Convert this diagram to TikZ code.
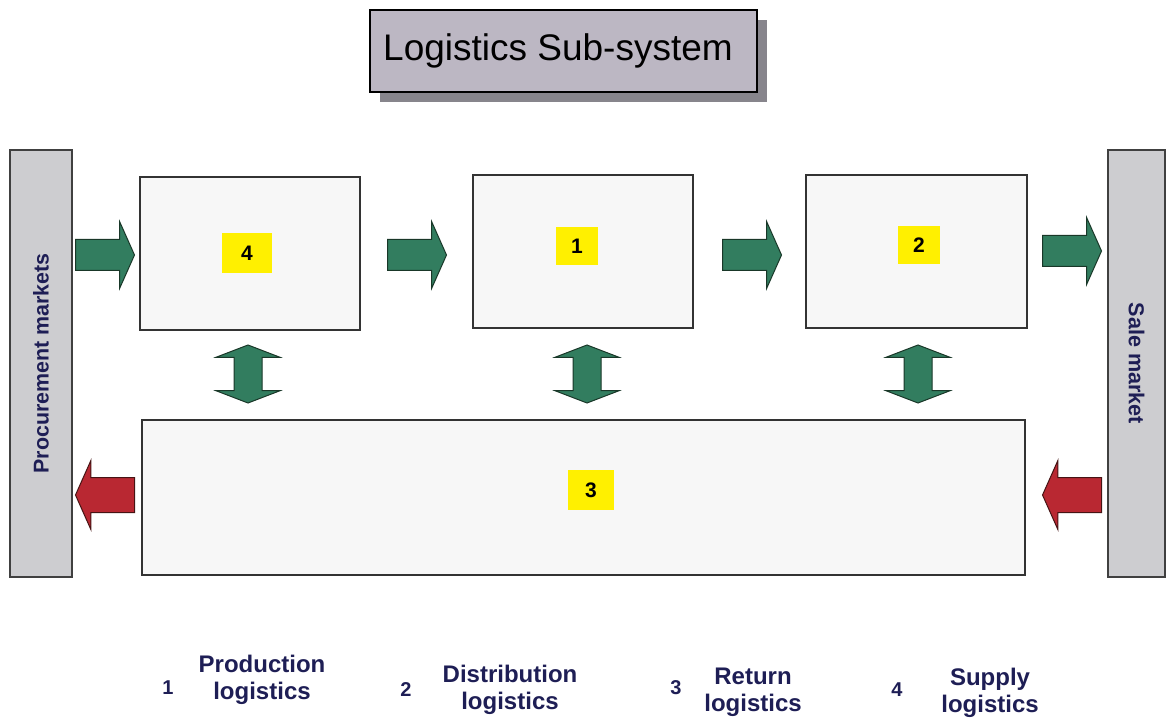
\documentclass[tikz,border=0pt]{standalone}
\usepackage{fontspec}
\setmainfont{Liberation Sans}
\usetikzlibrary{shapes.arrows}
\definecolor{gfill}{RGB}{50,125,95}
\definecolor{gdraw}{RGB}{25,55,40}
\definecolor{rfill}{RGB}{185,40,50}
\definecolor{rdraw}{RGB}{70,20,20}
\definecolor{tfill}{RGB}{188,183,195}
\definecolor{tshadow}{RGB}{135,133,140}
\definecolor{barfill}{RGB}{205,205,208}
\definecolor{navy}{RGB}{30,30,85}
\definecolor{ylw}{RGB}{255,240,0}
\definecolor{boxfill}{RGB}{247,247,247}
\tikzset{
  panel/.style={draw=black!80, line width=0.6pt, fill=boxfill, inner sep=0pt},
  bar/.style={draw=black!75, line width=0.6pt, fill=barfill, inner sep=0pt, minimum height=213.5pt},
  tag/.style={fill=ylw, inner sep=0pt, font=\fontsize{10.5}{12}\selectfont\bfseries},
  flowarrow/.style={single arrow, draw=gdraw, fill=gfill, line width=0.5pt, inner sep=7.5pt,
     single arrow head extend=9pt, single arrow tip angle=132, minimum height=29.5pt, anchor=tail},
  backarrow/.style={flowarrow, draw=rdraw, fill=rfill, inner sep=8.5pt, single arrow head extend=8.5pt, single arrow tip angle=132},
  linkarrow/.style={double arrow, draw=gdraw, fill=gfill, line width=0.5pt, inner sep=6.75pt,
     double arrow head extend=9pt, double arrow tip angle=138, minimum height=29pt, rotate=90},
  legnum/.style={text=navy, font=\fontsize{10}{12}\selectfont\bfseries},
  legtxt/.style={text=navy, align=center, font=\fontsize{12}{13.5}\selectfont\bfseries}
}
\begin{document}
\begin{tikzpicture}[x=0.5pt,y=-0.5pt]
\useasboundingbox (0,0) rectangle (1171,721);
% title
\fill[tshadow] (380,20) rectangle (767,102);
\node[draw=black, line width=0.8pt, fill=tfill, minimum width=193.5pt, minimum height=41pt, inner sep=0pt] (title) at (563.5,51) {};
\node[font=\fontsize{18.5}{22}\selectfont] (titletext) at (558,51) {Logistics Sub-system};
% side bars
\node[bar, minimum width=31pt] (pm) at (41,363.5) {};
\node[rotate=90, text=navy, font=\fontsize{10.7}{12}\selectfont\bfseries] at (pm.center) {Procurement markets};
\node[bar, minimum width=28.5pt] (sm) at (1136.5,363.5) {};
\node[rotate=-90, text=navy, font=\fontsize{10.8}{12}\selectfont\bfseries] at (sm.center) {Sale market};
% panels
\node[panel, minimum width=110pt, minimum height=76.5pt] (b4) at (250,253.5) {};
\node[panel, minimum width=110pt, minimum height=76.5pt] (b1) at (583,251.5) {};
\node[panel, minimum width=110.5pt, minimum height=76.5pt] (b2) at (916.5,251.5) {};
\node[panel, minimum width=441.5pt, minimum height=77.5pt] (b3) at (583.5,497.5) {};
% tags
\node[tag, minimum width=25pt, minimum height=20pt] (t4) at (247,253) {4};
\node[tag, minimum width=21pt, minimum height=19pt] (t1) at (577,246) {1};
\node[tag, minimum width=21pt, minimum height=19pt] (t2) at (919,245) {2};
\node[tag, minimum width=23pt, minimum height=20pt] (t3) at (591,490) {3};
% flow arrows
\node[flowarrow] (a0) at (75,255) {};
\node[flowarrow] (a1) at (387,255) {};
\node[flowarrow] (a2) at (722,255) {};
\node[flowarrow] (a3) at (1042,251) {};
% return arrows
\node[backarrow, rotate=180] (r1) at (135,495) {};
\node[backarrow, rotate=180] (r2) at (1102,495) {};
% link arrows
\node[linkarrow] (l4) at (248,374) {};
\node[linkarrow] (l1) at (587,374) {};
\node[linkarrow] (l2) at (918,374) {};
% legend
\node[legnum] (n1) at (168,688) {1};
\node[legtxt] (x1) at (262,680) {Production\\logistics};
\node[legnum] (n2) at (406,690) {2};
\node[legtxt] (x2) at (510,690) {Distribution\\logistics};
\node[legnum] (n3) at (676,688) {3};
\node[legtxt] (x3) at (753,692) {Return\\logistics};
\node[legnum] (n4) at (897,690) {4};
\node[legtxt] (x4) at (990,693) {Supply\\logistics};
\end{tikzpicture}
\end{document}
